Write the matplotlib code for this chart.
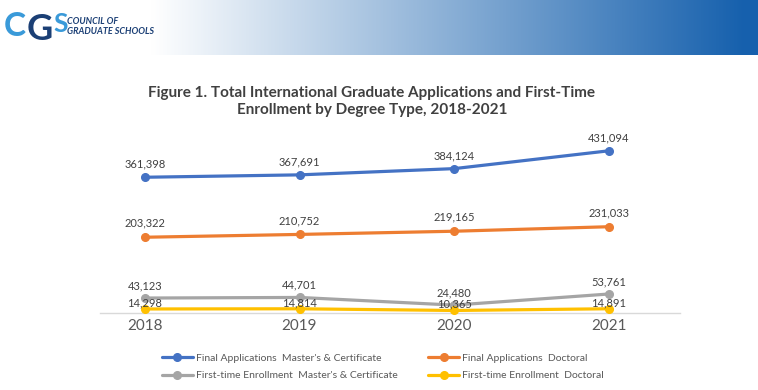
import numpy as np
import matplotlib.pyplot as plt

# Data
years = ["2018", "2019", "2020", "2021"]
apps_masters = [361398, 367691, 384124, 431094]
apps_doctoral = [203322, 210752, 219165, 231033]
enroll_masters = [43123, 44701, 24480, 53761]
enroll_doctoral = [14298, 14814, 10365, 14891]

series_names = [
    "Final Applications  Master's & Certificate",
    "Final Applications  Doctoral",
    "First-time Enrollment  Master's & Certificate",
    "First-time Enrollment  Doctoral",
]
series_values = [apps_masters, apps_doctoral, enroll_masters, enroll_doctoral]
colors = ["#4472C4", "#ED7D31", "#A5A5A5", "#FFC000"]
label_offsets = [9.5, 10, 9, 4.5]

plt.rcParams['font.family'] = ['Lato', 'DejaVu Sans']

W, H = 758, 390
fig = plt.figure(figsize=(W / 100, H / 100), dpi=100)

# Header band with gradient
hdr = fig.add_axes([0, 1 - 55 / H, 1, 55 / H])
grad = np.linspace(0, 1, 400)
grad = np.clip((grad - 0.2) / 0.78, 0, 1)
white = np.array([1.0, 1.0, 1.0])
blue = np.array([0.09, 0.38, 0.68])
img = white[None, :] * (1 - grad[:, None]) + blue[None, :] * grad[:, None]
img = img[None, :, :]
hdr.imshow(img, aspect='auto', extent=[0, 1, 0, 1])
hdr.set_xlim(0, 1)
hdr.set_ylim(0, 1)
hdr.axis('off')

# Logo
fig.text(4 / W, 1 - 27 / H, "C", fontsize=24, fontweight='bold', color="#3A9AD9",
         va='center', ha='left')
fig.text(27 / W, 1 - 30 / H, "G", fontsize=26, fontweight='bold', color="#1B3F75",
         va='center', ha='left')
fig.text(53 / W, 1 - 24 / H, "S", fontsize=19, fontweight='bold', color="#3A9AD9",
         va='center', ha='left')
fig.text(67 / W, 1 - 21 / H, "COUNCIL OF", fontsize=6.5, fontweight='bold',
         color="#1B3F75", va='center', ha='left', style='italic')
fig.text(67 / W, 1 - 32 / H, "GRADUATE SCHOOLS", fontsize=6.5, fontweight='bold',
         color="#1B3F75", va='center', ha='left', style='italic')

# Title
fig.text(372 / W, 1 - 93 / H, "Figure 1. Total International Graduate Applications and First-Time",
         fontsize=11, fontweight='bold', color="#404040", ha='center', va='center')
fig.text(372 / W, 1 - 110 / H, "Enrollment by Degree Type, 2018-2021",
         fontsize=11, fontweight='bold', color="#404040", ha='center', va='center')

# Chart axes
ax = fig.add_axes([100 / W, 1 - 313 / H, 580 / W, 173 / H])
x = np.arange(len(years))
handles = []
for vals, name, c, off in zip(series_values, series_names, colors, label_offsets):
    h, = ax.plot(x, vals, color=c, lw=2.3, marker='o', markersize=5.5,
                 solid_capstyle='round', label=name, zorder=3, clip_on=False)
    handles.append(h)
    for xi, v in zip(x, vals):
        ax.annotate(f"{v:,}", (xi, v), xytext=(0, off), textcoords='offset points',
                    ha='center', va='center', fontsize=8, color="#404040", zorder=4)

ax.set_xlim(-0.29, 3.46)
ax.set_ylim(3700, 459555)
for s in ['top', 'right', 'left']:
    ax.spines[s].set_visible(False)
ax.spines['bottom'].set_color("#D9D9D9")
ax.spines['bottom'].set_linewidth(1)
ax.set_yticks([])
ax.set_xticks(x)
ax.set_xticklabels(years, fontsize=11, color="#595959")
ax.tick_params(axis='x', length=0, pad=4)
ax.patch.set_alpha(0)

# legend filled row by row like the original
order = [0, 2, 1, 3]
fig.legend(handles=[handles[i] for i in order], loc='center',
           bbox_to_anchor=(383 / W, 1 - 367 / H),
           ncol=2, frameon=False, fontsize=7.5, labelcolor="#595959",
           handlelength=3.0, columnspacing=2.9, labelspacing=0.8, handletextpad=0.3)

fig.savefig("out.png", dpi=100)
